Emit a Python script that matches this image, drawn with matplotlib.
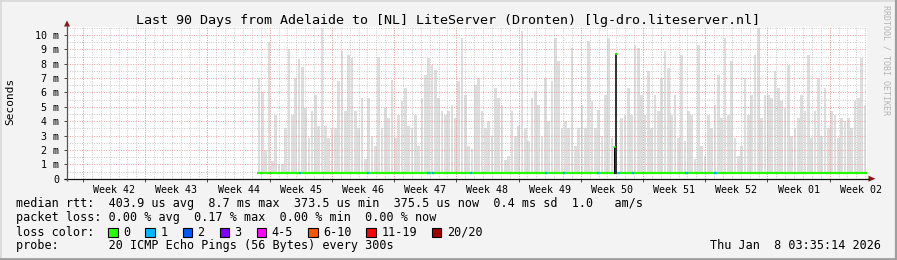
import matplotlib
matplotlib.use("Agg")
import matplotlib.pyplot as plt
import numpy as np
from matplotlib.patches import Rectangle, Polygon

# ---------------- data ----------------
title = "Last 90 Days from Adelaide to [NL] LiteServer (Dronten) [lg-dro.liteserver.nl]"
week_labels = ["Week 42", "Week 43", "Week 44", "Week 45", "Week 46", "Week 47", "Week 48",
               "Week 49", "Week 50", "Week 51", "Week 52", "Week 01", "Week 02"]
y_tick_values = [0, 1, 2, 3, 4, 5, 6, 7, 8, 9, 10]
y_tick_labels = ["0", "1 m", "2 m", "3 m", "4 m", "5 m", "6 m", "7 m", "8 m", "9 m", "10 m"]

span_days = 90.0
first_week_start = 1.8          # day offset of first week boundary in the window
data_start_day = 21.4
data_end_day = 89.95

# smoke (upper envelope of ping distribution), ms
smoke_top_ms = [
    7.0, 6.0, 2.0, 9.5, 1.2, 4.4, 1.0, 1.0, 3.5, 9.0, 4.4, 7.0, 8.3, 7.8, 4.9, 2.8, 4.7, 5.8, 3.7, 10.5,
    3.7, 2.8, 3.5, 3.5, 6.8, 8.9, 4.7, 8.6, 8.4, 4.7,
    3.5, 5.6, 1.4, 5.6, 3.0, 2.3, 8.5, 3.5, 4.9, 4.2, 6.9, 2.8, 4.4, 5.4, 6.3, 3.7, 3.5, 4.4, 2.3, 5.6,
    7.2, 8.4, 7.9, 7.6, 5.6, 4.7, 4.4, 4.7, 5.1, 4.2,
    6.8, 9.8, 5.8, 2.3, 2.1, 6.5, 7.0, 4.7, 3.5, 4.0, 3.0, 6.3, 5.6, 5.1, 1.3, 1.6, 4.7, 3.0, 3.7, 10.3,
    3.5, 2.6, 5.6, 6.1, 5.1, 3.0, 7.0, 4.0, 6.8, 9.8, 8.2,
    3.5, 4.0, 3.5, 9.1, 2.3, 3.5, 5.1, 3.5, 9.6, 5.4, 3.5, 4.8, 3.0, 5.8, 9.8, 2.8, 1.6, 0.4, 4.2, 4.4,
    6.3, 4.4, 9.3, 9.1, 5.8, 4.4, 7.5, 3.5, 5.8, 4.7,
    7.0, 8.9, 7.7, 4.4, 5.8, 2.8, 8.6, 2.6, 4.7, 4.4, 1.4, 9.3, 2.3, 1.6, 4.4, 3.5, 5.1, 7.2, 4.2, 9.8,
    4.4, 8.2, 2.8, 1.6, 2.3, 7.0, 4.4, 5.8, 8.6, 10.5,
    4.2, 5.8, 5.8, 5.6, 7.5, 6.3, 5.4, 4.9, 7.9, 3.0, 3.5, 4.2, 5.8, 4.7, 8.6, 2.8, 4.7, 7.0, 3.0, 6.3,
    3.5, 4.7, 4.4, 2.8, 4.2, 4.0, 4.2, 3.5, 5.4, 5.6, 8.4, 5.1,
]
smoke_floor_ms = 0.37
median_ms = 0.40
spike_days = [61.59, 61.80]
spike_ms = [2.2, 8.7]
loss1_days = [26.21, 33.88, 40.67, 41.15, 45.42, 53.89, 55.95, 59.70, 62.13, 63.67, 69.69, 72.95]

legend_rtt = "median rtt:  403.9 us avg  8.7 ms max  373.5 us min  375.5 us now  0.4 ms sd  1.0   am/s"
legend_loss = "packet loss: 0.00 % avg  0.17 % max  0.00 % min  0.00 % now"
loss_labels = ["0", "1", "2", "3", "4-5", "6-10", "11-19", "20/20"]
loss_colors = ["#26ff00", "#00b8ff", "#0059ff", "#7e00ff", "#ff00ff", "#ff5500", "#ff0000", "#a00000"]
probe_text = "probe:       20 ICMP Echo Pings (56 Bytes) every 300s"
date_text = "Thu Jan  8 03:35:14 2026"

# ---------------- figure ----------------
W, H = 897, 260
MONO = "DejaVu Sans Mono"
fig = plt.figure(figsize=(W / 100, H / 100), dpi=100)
fig.patch.set_facecolor("#f3f3f3")

px_l, px_r, px_t, px_b = 67, 867, 26.7, 178.7
ax = fig.add_axes([px_l / W, 1 - px_b / H, (px_r - px_l) / W, (px_b - px_t) / H])
ax.set_facecolor("white")
ax.set_xlim(0, span_days)
ax.set_ylim(0, 10.58)
for s in ax.spines.values():
    s.set_visible(False)

# smoke
n = len(smoke_top_ms)
step = (data_end_day - data_start_day) / n
xs = data_start_day + (np.arange(n) + 0.5) * step
tops = np.array(smoke_top_ms)
ax.bar(xs, tops - smoke_floor_ms, bottom=smoke_floor_ms, width=step * 0.8,
       color="#dddddd", linewidth=0, zorder=1)

# grid
minor_days = np.arange(first_week_start - 1, span_days, 1.0)
week_lines = np.arange(first_week_start, span_days, 7.0)
for d in minor_days:
    ax.axvline(d, color="#c8c8c8", lw=0.7, ls=(0, (1, 1.5)), zorder=2)
for yv in np.arange(0.5, 10.6, 1.0):
    ax.axhline(yv, color="#c8c8c8", lw=0.7, ls=(0, (1, 1.5)), zorder=2)
for d in week_lines:
    ax.axvline(d, color="#f0a0a0", lw=0.7, ls=(0, (1, 1.5)), zorder=2)
for yv in y_tick_values[1:]:
    ax.axhline(yv, color="#f0a0a0", lw=0.7, ls=(0, (1, 1.5)), zorder=2)

# median line
ax.plot([data_start_day, data_end_day], [median_ms, median_ms], color="#26ff00", lw=1.6,
        solid_capstyle="butt", zorder=3)
for d in loss1_days:
    ax.plot([d - 0.12, d + 0.12], [median_ms, median_ms], color="#00b8ff", lw=1.6,
            solid_capstyle="butt", zorder=4)
ax.plot([spike_days[0], spike_days[0]], [median_ms, spike_ms[0]], color="black", lw=0.8, zorder=5)
ax.plot([spike_days[1], spike_days[1]], [median_ms, spike_ms[1]], color="#222222", lw=1.3, zorder=5)
for d, v in zip(spike_days, spike_ms):
    ax.plot([d - 0.08, d + 0.08], [v, v], color="#26ff00", lw=1.2, zorder=6)

# ticks
label_days = week_lines + 3.5
ax.set_xticks(label_days)
ax.set_xticklabels(week_labels, fontfamily=MONO, fontsize=7.2)
ax.set_xticks(week_lines, minor=True)
ax.tick_params(axis="x", which="major", length=0, pad=4.6)
ax.tick_params(axis="x", which="minor", length=2.0, width=0.7, color="#444444", direction="out")
ax.set_yticks(y_tick_values)
ax.set_yticklabels(y_tick_labels, fontfamily=MONO, fontsize=7.2)
ax.tick_params(axis="y", length=2.0, width=0.7, color="#444444", direction="out", pad=3.6)

# overlay
ov = fig.add_axes([0, 0, 1, 1], zorder=10)
ov.set_xlim(0, W)
ov.set_ylim(H, 0)
ov.axis("off")
ov.patch.set_alpha(0)

# axis lines + arrows
ov.plot([64, 869], [px_b, px_b], color="#111111", lw=0.9, solid_capstyle="butt")
ov.plot([px_l, px_l], [px_b + 2, 25], color="#555555", lw=0.9, solid_capstyle="butt")
ov.add_patch(Polygon([[875.5, px_b], [868.5, px_b - 3], [868.5, px_b + 3]], closed=True,
                     color="#8b1515", lw=0))
ov.add_patch(Polygon([[px_l, 20.5], [px_l - 3, 26.5], [px_l + 3, 26.5]], closed=True,
                     color="#8b1515", lw=0))

# title, labels
ov.text(448, 24, title, ha="center", va="baseline", fontfamily=MONO, fontsize=9.6, color="black")
ov.text(10, 101, "Seconds", ha="center", va="center", rotation=90, fontfamily=MONO, fontsize=8)
ov.text(886, 5, "RRDTOOL / TOBI OETIKER", ha="center", va="top", rotation=270,
        fontfamily=MONO, fontsize=6, color="#b4b4b4")

# legend
ov.text(16, 207.5, legend_rtt, ha="left", va="baseline", fontfamily=MONO, fontsize=8.5)
ov.text(16, 221.5, legend_loss, ha="left", va="baseline", fontfamily=MONO, fontsize=8.5)
ov.text(16, 235.5, "loss color:", ha="left", va="baseline", fontfamily=MONO, fontsize=8.5)
ov.text(16, 249.3, probe_text, ha="left", va="baseline", fontfamily=MONO, fontsize=8.5)
ov.text(881, 249.3, date_text, ha="right", va="baseline", fontfamily=MONO, fontsize=8.5)

cw = 7.1
x = 108.3
for lab, col in zip(loss_labels, loss_colors):
    ov.add_patch(Rectangle((x, 227.5), 9.5, 9, facecolor=col, edgecolor="black", lw=0.8))
    ov.text(x + 15, 235.5, lab, ha="left", va="baseline", fontfamily=MONO, fontsize=8.5)
    x = x + 15 + len(lab) * cw + 15

# frame (3D shading)
ov.plot([0.5, W - 0.5], [0.8, 0.8], color="#d8d8d8", lw=1.2)
ov.plot([0.8, 0.8], [0, H], color="#d8d8d8", lw=1.2)
ov.plot([0, W], [H - 1.2, H - 1.2], color="#9e9e9e", lw=2.0)
ov.plot([W - 1.0, W - 1.0], [0, H], color="#9e9e9e", lw=1.6)

fig.savefig("out.png", dpi=100, facecolor=fig.get_facecolor())
